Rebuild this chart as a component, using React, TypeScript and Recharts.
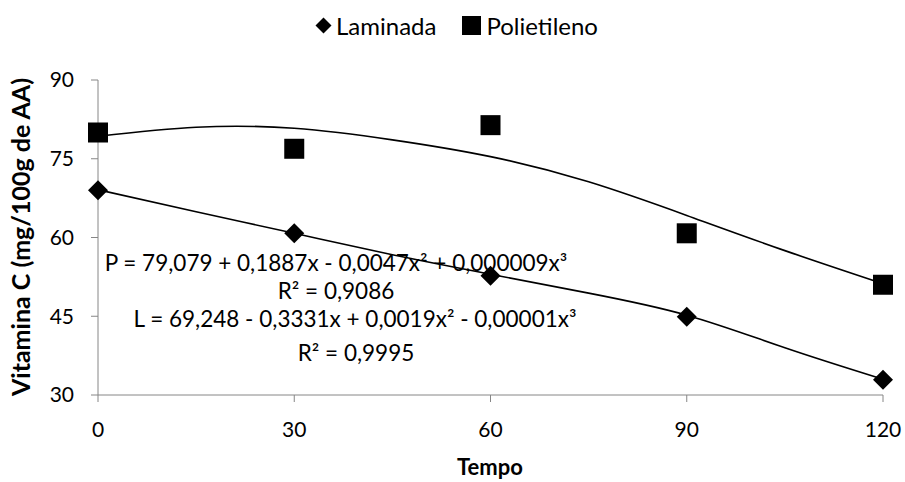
import { ComposedChart, Line, Scatter, XAxis, YAxis } from 'recharts'

const TEMPO = [0, 30, 60, 90, 120]
const LAMINADA = [69.0, 60.8, 52.7, 44.9, 32.9]
const POLIETILENO = [80.0, 76.9, 81.4, 60.8, 51.0]

// trend curves
const TREND_X = [0, 15, 30, 45, 60, 75, 90, 105, 120]
const TREND_L = [69.1, 64.9, 60.8, 56.7, 53.0, 49.4, 45.2, 39.0, 33.0]
const TREND_P = [79.3, 81.0, 80.8, 78.6, 75.4, 70.6, 64.2, 57.5, 51.2]

const X_TICKS = [0, 30, 60, 90, 120]
const Y_TICKS = [30, 45, 60, 75, 90]

const EQ_P = 'P = 79,079 + 0,1887x - 0,0047x² + 0,000009x³'
const R2_P = 'R² = 0,9086'
const EQ_L = 'L = 69,248 - 0,3331x + 0,0019x² - 0,00001x³'
const R2_L = 'R² = 0,9995'

const FONT = 'Lato, "Open Sans", sans-serif'
const AXIS = '#868686'

const lamPts = TEMPO.map((x, i) => ({ x, y: LAMINADA[i] }))
const polPts = TEMPO.map((x, i) => ({ x, y: POLIETILENO[i] }))
const trendL = TREND_X.map((x, i) => ({ x, y: TREND_L[i] }))
const trendP = TREND_X.map((x, i) => ({ x, y: TREND_P[i] }))

function Diamond(props: any) {
  const { cx, cy } = props
  const r = 10
  return <polygon points={`${cx},${cy - r} ${cx + r},${cy} ${cx},${cy + r} ${cx - r},${cy}`} fill="#000" />
}

function Square(props: any) {
  const { cx, cy } = props
  return <rect x={cx - 10} y={cy - 10} width={20} height={20} fill="#000" />
}

const eqStyle = { fontSize: 22.5, fontFamily: FONT, fill: '#000' }

export default function App() {
  return (
    <div style={{ position: 'absolute', left: 0, top: 0, width: 905, height: 482, background: '#fff', fontFamily: FONT }}>
      <div style={{ position: 'absolute', top: 11, left: 0, width: 905, display: 'flex', justifyContent: 'center', alignItems: 'center', fontSize: 24, color: '#000', paddingLeft: 8, boxSizing: 'border-box' }}>
        <svg width={17} height={17} style={{ marginRight: 4 }}>
          <polygon points="8.5,0.5 16.5,8.5 8.5,16.5 0.5,8.5" fill="#000" />
        </svg>
        <span style={{ marginRight: 26 }}>Laminada</span>
        <svg width={19} height={19} style={{ marginRight: 5 }}>
          <rect x={0} y={0} width={19} height={19} fill="#000" />
        </svg>
        <span>Polietileno</span>
      </div>
      <ComposedChart width={905} height={482} margin={{ top: 80, right: 22, bottom: 37, left: 38 }}>
        <XAxis
          dataKey="x"
          type="number"
          domain={[0, 120]}
          ticks={X_TICKS}
          allowDuplicatedCategory={false}
          stroke={AXIS}
          tickSize={7}
          tickMargin={20}
          tick={{ fill: '#000', fontSize: 21, fontFamily: FONT }}
          height={50}
        />
        <YAxis
          dataKey="y"
          type="number"
          domain={[30, 90]}
          ticks={Y_TICKS}
          stroke={AXIS}
          tickSize={7}
          tickMargin={17}
          tick={{ fill: '#000', fontSize: 21, fontFamily: FONT }}
          width={60}
        />
        <Line data={trendP} dataKey="y" type="natural" stroke="#000" strokeWidth={1.6} dot={false} isAnimationActive={false} />
        <Line data={trendL} dataKey="y" type="natural" stroke="#000" strokeWidth={1.6} dot={false} isAnimationActive={false} />
        <Scatter data={polPts} dataKey="y" shape={Square} isAnimationActive={false} />
        <Scatter data={lamPts} dataKey="y" shape={Diamond} isAnimationActive={false} />
        <text x={336} y={262} textAnchor="middle" dominantBaseline="central" {...eqStyle}>{EQ_P}</text>
        <text x={336} y={290} textAnchor="middle" dominantBaseline="central" {...eqStyle}>{R2_P}</text>
        <text x={355} y={318} textAnchor="middle" dominantBaseline="central" {...eqStyle}>{EQ_L}</text>
        <text x={356} y={352} textAnchor="middle" dominantBaseline="central" {...eqStyle}>{R2_L}</text>
        <text x={20} y={237} transform="rotate(-90 20 237)" textAnchor="middle" dominantBaseline="central" fontSize={25} fontWeight="bold" fontFamily={FONT} fill="#000">Vitamina C (mg/100g de AA)</text>
        <text x={490} y={466} textAnchor="middle" dominantBaseline="central" fontSize={22} fontWeight="bold" fontFamily={FONT} fill="#000">Tempo</text>
      </ComposedChart>
    </div>
  )
}
